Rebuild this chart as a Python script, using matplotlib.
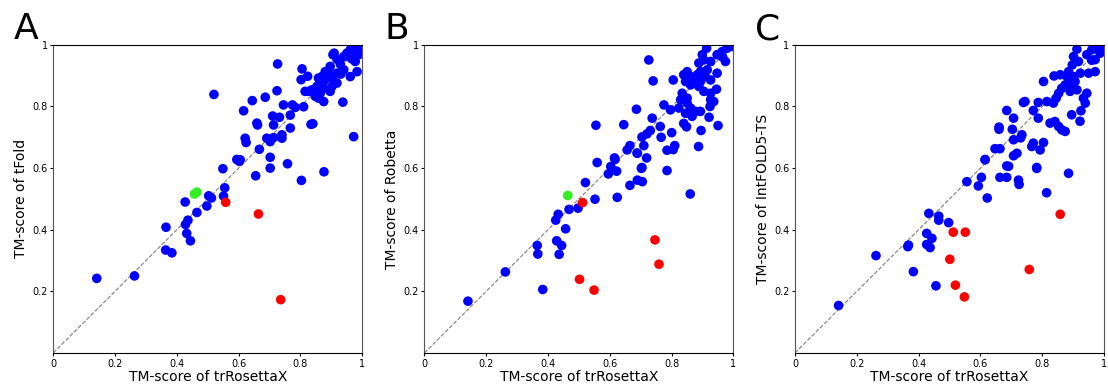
import numpy as np
import matplotlib.pyplot as plt

# TM-scores: (trRosettaX, other method)
tfold_blue = [
    (0.141, 0.242), (0.263, 0.250), (0.365, 0.408), (0.364, 0.334), (0.384, 0.325),
    (0.427, 0.490), (0.428, 0.417), (0.436, 0.431), (0.432, 0.388), (0.444, 0.364),
    (0.465, 0.456), (0.497, 0.477), (0.503, 0.510), (0.512, 0.503), (0.549, 0.598),
    (0.555, 0.536), (0.551, 0.509), (0.520, 0.839), (0.594, 0.628), (0.602, 0.622),
    (0.624, 0.683), (0.616, 0.786), (0.655, 0.575), (0.803, 0.560), (0.876, 0.588),
    (0.726, 0.938), (0.909, 0.973), (0.905, 0.968), (0.918, 0.953), (0.929, 0.937),
    (0.940, 0.962), (0.950, 0.973), (0.961, 0.984), (0.972, 0.989), (0.983, 0.978),
    (0.988, 0.968), (0.977, 0.946), (0.983, 0.913), (0.961, 0.897), (0.940, 0.919),
    (0.918, 0.908), (0.896, 0.930), (0.891, 0.908), (0.880, 0.913), (0.869, 0.897),
    (0.858, 0.892), (0.864, 0.876), (0.875, 0.881), (0.885, 0.892), (0.907, 0.886),
    (0.918, 0.876), (0.902, 0.865), (0.896, 0.849), (0.875, 0.859), (0.853, 0.865),
    (0.848, 0.849), (0.837, 0.854), (0.826, 0.849), (0.815, 0.849), (0.848, 0.833),
    (0.858, 0.827), (0.875, 0.816), (0.864, 0.843), (0.937, 0.814), (0.805, 0.922),
    (0.802, 0.887), (0.823, 0.898), (0.724, 0.851), (0.686, 0.830), (0.644, 0.819),
    (0.745, 0.805), (0.774, 0.805), (0.783, 0.797), (0.810, 0.799), (0.710, 0.769),
    (0.732, 0.765), (0.767, 0.772), (0.659, 0.746), (0.661, 0.740), (0.713, 0.740),
    (0.767, 0.730), (0.840, 0.744), (0.834, 0.742), (0.621, 0.697), (0.691, 0.697),
    (0.713, 0.699), (0.740, 0.708), (0.740, 0.697), (0.702, 0.686), (0.972, 0.702),
    (0.667, 0.661), (0.702, 0.635), (0.758, 0.614), (0.605, 0.627), (0.702, 0.600),
    (0.995, 0.995), (0.965, 0.955), (0.930, 0.905),
]
tfold_green = [(0.457, 0.516), (0.465, 0.522)]
tfold_red = [(0.558, 0.489), (0.664, 0.451), (0.736, 0.173)]

robetta_blue = [
    (0.141, 0.168), (0.262, 0.263), (0.383, 0.206), (0.365, 0.349), (0.367, 0.321),
    (0.428, 0.364), (0.444, 0.349), (0.436, 0.320), (0.457, 0.403), (0.425, 0.431),
    (0.433, 0.450), (0.468, 0.466), (0.497, 0.470), (0.521, 0.553), (0.552, 0.499),
    (0.555, 0.739), (0.559, 0.618), (0.595, 0.581), (0.603, 0.605), (0.617, 0.628),
    (0.622, 0.590), (0.624, 0.505), (0.645, 0.741), (0.665, 0.544), (0.689, 0.561),
    (0.705, 0.556), (0.702, 0.599), (0.689, 0.648), (0.785, 0.592), (0.860, 0.516),
    (0.887, 0.670), (0.895, 0.722), (0.726, 0.951), (0.913, 0.989), (0.899, 0.968),
    (0.904, 0.951), (0.888, 0.941), (0.926, 0.946), (0.947, 0.968), (0.963, 0.978),
    (0.979, 0.989), (0.974, 0.946), (0.947, 0.908), (0.926, 0.886), (0.915, 0.919),
    (0.909, 0.897), (0.893, 0.913), (0.883, 0.903), (0.877, 0.881), (0.893, 0.881),
    (0.850, 0.913), (0.839, 0.903), (0.861, 0.897), (0.845, 0.881), (0.861, 0.870),
    (0.888, 0.865), (0.904, 0.849), (0.926, 0.843), (0.945, 0.856), (0.805, 0.886),
    (0.740, 0.883), (0.834, 0.843), (0.850, 0.827), (0.829, 0.822), (0.850, 0.811),
    (0.861, 0.795), (0.877, 0.784), (0.893, 0.784), (0.926, 0.822), (0.936, 0.816),
    (0.775, 0.805), (0.796, 0.789), (0.823, 0.795), (0.845, 0.778), (0.866, 0.768),
    (0.924, 0.800), (0.921, 0.765), (0.950, 0.738), (0.686, 0.791), (0.737, 0.762),
    (0.763, 0.735), (0.839, 0.745), (0.848, 0.734), (0.704, 0.701), (0.720, 0.711),
    (0.731, 0.722), (0.800, 0.715), (0.766, 0.700), (0.810, 0.673), (0.805, 0.660),
    (0.785, 0.658), (0.710, 0.673), (0.688, 0.649), (0.719, 0.633), (0.665, 0.673),
    (0.656, 0.659), (0.615, 0.633), (0.704, 0.602), (0.995, 0.995), (0.965, 0.960),
]
robetta_green = [(0.464, 0.511)]
robetta_red = [(0.512, 0.488), (0.502, 0.239), (0.549, 0.204), (0.746, 0.367), (0.759, 0.288)]

intfold_blue = [
    (0.141, 0.154), (0.262, 0.316), (0.383, 0.264), (0.365, 0.345), (0.367, 0.350),
    (0.433, 0.453), (0.426, 0.388), (0.443, 0.372), (0.426, 0.352), (0.437, 0.342),
    (0.456, 0.218), (0.465, 0.444), (0.465, 0.431), (0.497, 0.423), (0.556, 0.556),
    (0.593, 0.542), (0.603, 0.570), (0.622, 0.503), (0.615, 0.628), (0.663, 0.570),
    (0.685, 0.570), (0.685, 0.607), (0.723, 0.561), (0.725, 0.547), (0.782, 0.599),
    (0.814, 0.520), (0.885, 0.583), (0.912, 0.986), (0.901, 0.962), (0.917, 0.946),
    (0.897, 0.935), (0.885, 0.913), (0.944, 0.968), (0.960, 0.984), (0.976, 0.989),
    (0.987, 0.973), (0.971, 0.952), (0.971, 0.913), (0.950, 0.908), (0.923, 0.908),
    (0.901, 0.897), (0.880, 0.897), (0.858, 0.903), (0.838, 0.899), (0.804, 0.881),
    (0.890, 0.881), (0.906, 0.881), (0.874, 0.870), (0.896, 0.859), (0.912, 0.854),
    (0.890, 0.849), (0.863, 0.859), (0.853, 0.843), (0.944, 0.843), (0.933, 0.827),
    (0.939, 0.811), (0.845, 0.827), (0.836, 0.811), (0.815, 0.816), (0.744, 0.816),
    (0.739, 0.813), (0.787, 0.813), (0.685, 0.787), (0.771, 0.787), (0.925, 0.786),
    (0.707, 0.762), (0.787, 0.762), (0.922, 0.752), (0.895, 0.773), (0.825, 0.746),
    (0.841, 0.751), (0.853, 0.735), (0.863, 0.724), (0.874, 0.719), (0.660, 0.733),
    (0.660, 0.726), (0.703, 0.726), (0.734, 0.708), (0.730, 0.698), (0.647, 0.663),
    (0.663, 0.663), (0.707, 0.692), (0.707, 0.640), (0.718, 0.648), (0.771, 0.681),
    (0.793, 0.659), (0.804, 0.683), (0.615, 0.627), (0.766, 0.670), (0.691, 0.606),
    (0.782, 0.602), (0.995, 0.995), (0.960, 0.950),
]
intfold_red = [(0.512, 0.392), (0.551, 0.392), (0.501, 0.304), (0.519, 0.220),
               (0.548, 0.182), (0.758, 0.271), (0.858, 0.450)]

panels = [
    ("A", "TM-score of tFold", tfold_blue, tfold_green, tfold_red),
    ("B", "TM-score of Robetta", robetta_blue, robetta_green, robetta_red),
    ("C", "TM-score of IntFOLD5-TS", intfold_blue, [], intfold_red),
]
lefts = [0.048, 0.383, 0.7175]
ticks = [0, 0.2, 0.4, 0.6, 0.8, 1]
tick_labels = ["0", "0.2", "0.4", "0.6", "0.8", "1"]

fig = plt.figure(figsize=(11.08, 3.9), dpi=100)

for (letter, ylab, blue, green, red), left in zip(panels, lefts):
    ax = fig.add_axes([left, 0.095, 0.279, 0.79])
    ax.plot([0, 1], [0, 1], linestyle="--", color="gray", linewidth=0.8, zorder=1)
    for pts, col in [(blue, "#0000ff"), (green, "#33ee22"), (red, "#ff0000")]:
        if len(pts) == 0:
            continue
        arr = np.array(pts)
        ax.scatter(arr[:, 0], arr[:, 1], s=48, color=col, edgecolors="none", zorder=2)
    ax.set_xlim(0, 1)
    ax.set_ylim(0, 1)
    ax.set_xticks(ticks)
    ax.set_xticklabels(tick_labels)
    ax.set_yticks(ticks[1:])
    ax.set_yticklabels(tick_labels[1:])
    ax.tick_params(labelsize=7, length=2, pad=2)
    ax.set_xlabel("TM-score of trRosettaX", fontsize=10, labelpad=1)
    ax.set_ylabel(ylab, fontsize=10, labelpad=3)
    ax.spines["left"].set_color("#555555")
    ax.spines["right"].set_color("#555555")
    fig.text(left - 0.036, 0.9, letter, fontsize=26, va="baseline")

plt.savefig("out.png", dpi=100)
